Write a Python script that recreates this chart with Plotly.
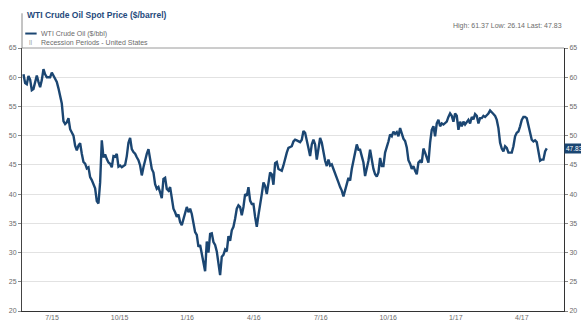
import pandas as pd
import plotly.graph_objects as go

wti_values = [
    60.5, 59.0, 58.8, 60.2, 59.6, 57.8, 58.0, 59.3, 60.3, 59.2,
    58.3, 59.5, 61.37, 60.5, 60.0, 60.0, 60.0, 60.8, 60.3, 59.8,
    59.2, 58.1, 56.9, 55.5, 52.5, 52.0, 52.3, 53.0, 51.1, 50.6,
    50.0, 48.3, 47.5, 48.3, 48.7, 46.9, 45.5, 45.2, 44.4, 44.6,
    42.9, 42.4, 41.5, 41.0, 38.8, 38.4, 42.0, 49.2, 46.3, 46.8,
    46.0, 45.4, 45.2, 44.6, 46.5, 46.4, 46.9, 44.7, 44.9, 44.6,
    44.8, 45.0, 46.5, 48.8, 49.6, 47.7, 47.2, 46.9, 46.3, 45.8,
    44.9, 43.2, 44.6, 45.9, 46.9, 47.7, 45.8,
    44.3, 43.7, 41.7, 40.9, 41.2, 40.3, 39.3, 42.6, 42.8, 40.9,
    40.6, 41.2, 39.5, 37.5, 36.9, 36.1, 36.5, 35.2, 34.7, 35.8,
    37.2, 37.8, 36.9, 37.5, 36.6, 35.2, 33.5, 33.0, 31.0, 31.3,
    29.9, 28.2, 26.8, 31.9, 30.0, 33.2, 33.3, 31.8, 31.3, 30.2,
    28.5, 26.14, 29.3, 29.6, 30.5, 30.2, 32.8, 32.0, 33.8, 34.4,
    35.8, 37.5, 38.1, 37.8, 36.4, 37.8, 40.0, 39.7, 41.2, 38.9,
    38.3, 38.3, 36.1, 34.4, 36.4, 38.0, 40.0, 42.0, 41.4, 40.0,
    42.3, 43.7, 43.4, 41.6, 45.3, 45.5, 44.3, 44.2, 44.0, 44.9,
    46.2, 47.1, 47.9, 48.0, 48.2, 49.0, 49.3, 49.2, 49.1, 48.9,
    49.3, 50.8, 50.5, 49.4, 47.9, 46.5, 48.5, 49.3, 48.5, 45.9,
    48.2, 49.6, 48.8, 47.1, 45.7, 44.8, 45.9, 44.9, 45.1, 44.3,
    43.4, 42.8, 42.0, 41.2, 40.6, 39.6, 40.9, 41.7, 42.8, 42.3,
    44.3, 45.9, 47.1, 48.5, 47.6, 47.6, 46.5, 45.4, 43.1, 44.3,
    45.7, 47.6, 45.9, 44.3, 43.4, 43.0, 43.7, 46.2, 44.8, 44.8,
    47.1, 47.9, 49.0, 50.2, 49.9, 50.7, 50.3, 50.6, 49.9, 51.3,
    50.5, 49.5, 49.1, 48.0, 45.8, 45.2, 44.3, 44.8, 44.0, 43.4,
    45.4, 45.7, 45.4, 47.8, 47.1, 46.2, 45.4, 48.8, 51.0, 51.6,
    49.9, 52.1, 52.7, 51.6, 52.1, 51.9, 52.1, 52.4, 53.2, 53.8,
    53.4, 52.4, 53.8, 53.4, 51.0, 52.4, 51.6, 52.4, 51.9, 52.4,
    52.7, 52.1, 53.2, 52.8, 53.7, 53.4, 52.1, 53.0, 53.0, 53.4,
    53.2, 53.5, 53.8, 54.3, 53.9, 53.7, 53.4, 52.7, 51.3, 48.8,
    47.8, 47.3, 48.2, 47.9, 47.1, 47.1, 47.1, 48.2, 49.9, 50.5,
    50.7, 51.6, 52.7, 53.2, 53.2, 53.0, 51.9, 50.5, 49.3, 49.0,
    49.2, 48.9, 47.3, 45.7, 45.9, 45.9, 47.3, 47.83,
]
start_date = "2015-05-23"
end_date = "2017-05-05"
dates = pd.date_range(start_date, end_date, periods=len(wti_values))

tick_dates = ["2015-07-01", "2015-10-01", "2016-01-01", "2016-04-01",
              "2016-07-01", "2016-10-01", "2017-01-01", "2017-04-01"]
tick_labels = ["7/15", "10/15", "1/16", "4/16", "7/16", "10/16", "1/17", "4/17"]
y_ticks = [20, 25, 30, 35, 40, 45, 50, 55, 60, 65]

title_text = "WTI Crude Oil Spot Price ($/barrel)"
series_name = "WTI Crude Oil ($/bbl)"
recession_name = "Recession Periods - United States"
stats_text = "High: 61.37 Low: 26.14 Last: 47.83"
last_value = 47.83

LINE = "#1b4672"
GRAY_TXT = "#6b6b6b"
FONT = "Liberation Sans, Arial, sans-serif"

fig = go.Figure()
fig.add_trace(go.Scatter(x=dates, y=wti_values, mode="lines",
                         line=dict(color=LINE, width=2.4), name=series_name,
                         showlegend=False, hoverinfo="skip"))
fig.add_trace(go.Scatter(x=dates, y=wti_values, mode="lines", yaxis="y2",
                         line=dict(color="rgba(0,0,0,0)", width=0),
                         showlegend=False, hoverinfo="skip"))

axis_font = dict(family=FONT, size=7, color=GRAY_TXT)
fig.update_layout(
    width=581, height=322,
    margin=dict(l=22, r=17, t=48, b=11, autoexpand=False),
    paper_bgcolor="white", plot_bgcolor="white",
    font=dict(family=FONT),
    xaxis=dict(type="date", range=["2015-05-21", "2017-05-28 12:00"],
               tickvals=tick_dates, ticktext=tick_labels, automargin=False,
               tickfont=axis_font, showgrid=False, zeroline=False,
               showline=True, linecolor="#333333", linewidth=1,
               ticks="", ticklabelstandoff=0),
    yaxis=dict(range=[20, 65], tickvals=y_ticks, tickfont=axis_font,
               automargin=False,
               showgrid=True, gridcolor="#e2e2e2", gridwidth=1, zeroline=False,
               showline=True, linecolor="#444444", linewidth=1,
               ticks="outside", ticklen=3, tickcolor="#888888"),
    yaxis2=dict(range=[20, 65], tickvals=y_ticks, tickfont=axis_font,
                automargin=False,
                overlaying="y", side="right", showgrid=False, zeroline=False,
                showline=True, linecolor="#333333", linewidth=1,
                ticks="outside", ticklen=3, tickcolor="#888888"),
    showlegend=False,
)

shapes = [
    dict(type="line", xref="paper", yref="paper", x0=0, x1=1, y0=1, y1=1,
         line=dict(color="#9a9a9a", width=1)),
    dict(type="line", xref="paper", yref="paper", x0=0, x1=0, y0=1, y1=1.132,
         line=dict(color="#8a8a8a", width=1)),
    dict(type="line", xref="paper", yref="paper", x0=0.006, x1=0.027,
         y0=1.055, y1=1.055, line=dict(color=LINE, width=2)),
]
fig.update_layout(shapes=shapes)

annotations = [
    dict(text=title_text, xref="paper", yref="paper", x=0.005, y=1.124,
         xanchor="left", yanchor="middle", showarrow=False,
         font=dict(family=FONT, size=8.5, color="#1f4a7c", weight="bold")),
    dict(text=series_name, xref="paper", yref="paper", x=0.031, y=1.055,
         xanchor="left", yanchor="middle", showarrow=False,
         font=dict(family=FONT, size=7, color=GRAY_TXT)),
    dict(text="||", xref="paper", yref="paper", x=0.016, y=1.021,
         xanchor="center", yanchor="middle", showarrow=False,
         font=dict(family=FONT, size=6, color="#888888")),
    dict(text=recession_name, xref="paper", yref="paper", x=0.031, y=1.021,
         xanchor="left", yanchor="middle", showarrow=False,
         font=dict(family=FONT, size=7, color=GRAY_TXT)),
    dict(text=stats_text, xref="paper", yref="paper", x=1.0, y=1.082,
         xanchor="right", yanchor="middle", showarrow=False,
         font=dict(family=FONT, size=7, color=GRAY_TXT)),
    dict(text=f"{last_value:.2f}", xref="paper", yref="y", x=1.0, y=last_value,
         xanchor="left", yanchor="middle", showarrow=False,
         bgcolor=LINE, borderpad=1,
         font=dict(family=FONT, size=6.5, color="white")),
]
fig.update_layout(annotations=annotations)

fig.write_html("out.html")
